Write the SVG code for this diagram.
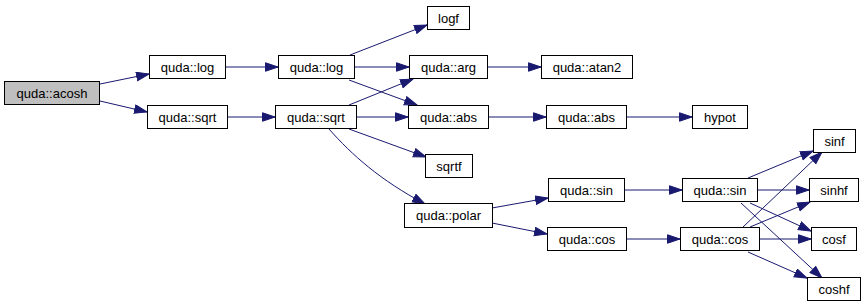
<svg xmlns="http://www.w3.org/2000/svg" width="866" height="307" viewBox="0 0 866 307">
  <style>
    .node rect { fill: #ffffff; stroke: #000000; stroke-width: 1; }
    .node.root rect { fill: #bfbfbf; }
    .node text { font-family: "Liberation Sans", Arial, Helvetica, sans-serif; font-size: 13px; fill: #000000; text-anchor: middle; }
    .edges path { fill: none; stroke: #191970; stroke-width: 1; marker-end: url(#arrow); }
  </style>
  <defs>
    <marker id="arrow" markerUnits="userSpaceOnUse" markerWidth="14" markerHeight="11" refX="13" refY="4.75" orient="auto">
      <path d="M0.5,0.5 L13,4.75 L0.5,9 z" fill="#191970" stroke="#191970" stroke-width="1"/>
    </marker>
  </defs>
  <rect x="0" y="0" width="866" height="307" fill="#ffffff"/>

  <!-- call edges -->
  <g id="edges" class="edges">
    <path d="M100,84 L149,74"/>
    <path d="M100,101 L147,112"/>
    <path d="M226,67 L278,67"/>
    <path d="M228,117 L275,117"/>
    <path d="M350,55 L427,25"/>
    <path d="M354,67 L409,67"/>
    <path d="M349,80 L417,105"/>
    <path d="M349,105 L413,79"/>
    <path d="M357,117 L408,117"/>
    <path d="M349,129 L426,157"/>
    <path d="M329,129 C352,155 380,180 425,204"/>
    <path d="M487,67 L541,67"/>
    <path d="M489,117 L546,117"/>
    <path d="M627,117 L692,117"/>
    <path d="M492,208 L548,198"/>
    <path d="M492,223 L547,234"/>
    <path d="M624,190 L682,190"/>
    <path d="M627,239 L680,239"/>
    <path d="M748,178 L813,151"/>
    <path d="M758,190 L809,190"/>
    <path d="M750,203 L811,231"/>
    <path d="M741,203 L822,278"/>
    <path d="M743,227 L822,152"/>
    <path d="M750,227 L810,202"/>
    <path d="M760,239 L811,239"/>
    <path d="M748,252 L807,278"/>
  </g>

  <g id="acosh" class="node root"><rect x="4.5" y="81.5" width="95" height="23"/><text x="52" y="97.5">quda::acosh</text></g>
  <g id="log1" class="node"><rect x="149.5" y="55.5" width="76" height="23"/><text x="187.5" y="71.5">quda::log</text></g>
  <g id="sqrt1" class="node"><rect x="147.5" y="105.5" width="80" height="23"/><text x="187.5" y="121.5">quda::sqrt</text></g>
  <g id="log2" class="node"><rect x="278.5" y="55.5" width="76" height="23"/><text x="316.5" y="71.5">quda::log</text></g>
  <g id="sqrt2" class="node"><rect x="275.5" y="105.5" width="81" height="23"/><text x="316" y="121.5">quda::sqrt</text></g>
  <g id="logf" class="node"><rect x="427.5" y="6.5" width="42" height="23"/><text x="448.5" y="22.5">logf</text></g>
  <g id="arg" class="node"><rect x="409.5" y="55.5" width="78" height="23"/><text x="448.5" y="71.5">quda::arg</text></g>
  <g id="abs1" class="node"><rect x="408.5" y="105.5" width="80" height="23"/><text x="448.5" y="121.5">quda::abs</text></g>
  <g id="sqrtf" class="node"><rect x="425.5" y="154.5" width="47" height="23"/><text x="449" y="170.5">sqrtf</text></g>
  <g id="polar" class="node"><rect x="404.5" y="203.5" width="88" height="24"/><text x="448.5" y="220">quda::polar</text></g>
  <g id="atan2" class="node"><rect x="541.5" y="55.5" width="91" height="23"/><text x="587" y="71.5">quda::atan2</text></g>
  <g id="abs2" class="node"><rect x="546.5" y="105.5" width="80" height="23"/><text x="586.5" y="121.5">quda::abs</text></g>
  <g id="hypot" class="node"><rect x="692.5" y="105.5" width="55" height="23"/><text x="720" y="121.5">hypot</text></g>
  <g id="sin1" class="node"><rect x="548.5" y="178.5" width="76" height="23"/><text x="586.5" y="194.5">quda::sin</text></g>
  <g id="cos1" class="node"><rect x="547.5" y="227.5" width="79" height="23"/><text x="587" y="243.5">quda::cos</text></g>
  <g id="sin2" class="node"><rect x="682.5" y="178.5" width="75" height="23"/><text x="720" y="194.5">quda::sin</text></g>
  <g id="cos2" class="node"><rect x="680.5" y="227.5" width="79" height="23"/><text x="720" y="243.5">quda::cos</text></g>
  <g id="sinf" class="node"><rect x="813.5" y="129.5" width="42" height="23"/><text x="834.5" y="145.5">sinf</text></g>
  <g id="sinhf" class="node"><rect x="809.5" y="178.5" width="49" height="23"/><text x="834" y="194.5">sinhf</text></g>
  <g id="cosf" class="node"><rect x="811.5" y="227.5" width="45" height="23"/><text x="834" y="243.5">cosf</text></g>
  <g id="coshf" class="node"><rect x="807.5" y="277.5" width="53" height="23"/><text x="834" y="293.5">coshf</text></g>
</svg>
